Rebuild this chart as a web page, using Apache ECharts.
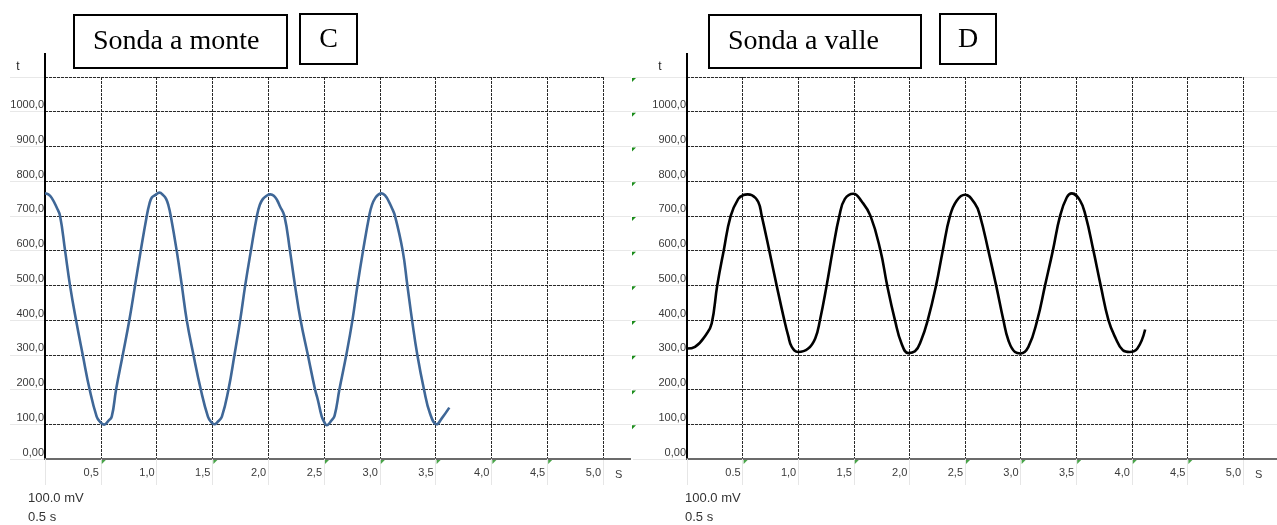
<!DOCTYPE html>
<html><head><meta charset="utf-8">
<script src="https://cdn.jsdelivr.net/npm/echarts@6/dist/echarts.min.js"></script>
<style>html,body{margin:0;padding:0;background:#fff}#c{width:1277px;height:525px}</style>
</head><body><div id="c"></div><script>
// ---- data ----
const monteTime = [0, 0.03, 0.06, 0.105, 0.135, 0.18, 0.224, 0.278, 0.338, 0.40, 0.463, 0.493, 0.529, 0.568, 0.598, 0.637, 0.697, 0.756, 0.807, 0.858, 0.912, 0.935, 0.957, 0.987, 1.025, 1.061, 1.085, 1.106, 1.127, 1.18, 1.226, 1.27, 1.33, 1.396, 1.46, 1.49, 1.516, 1.55, 1.585, 1.644, 1.698, 1.749, 1.794, 1.845, 1.899, 1.925, 1.953, 1.985, 2.018, 2.05, 2.08, 2.105, 2.145, 2.195, 2.24, 2.29, 2.355, 2.42, 2.445, 2.48, 2.505, 2.524, 2.565, 2.595, 2.638, 2.70, 2.755, 2.80, 2.85, 2.905, 2.93, 2.96, 2.99, 3.016, 3.05, 3.08, 3.105, 3.136, 3.205, 3.247, 3.289, 3.336, 3.396, 3.45, 3.51, 3.555, 3.623];
const monteValue = [765, 762, 752, 724, 700, 600, 500, 400, 300, 200, 122, 107, 99, 110, 122, 200, 300, 400, 500, 600, 700, 734, 753, 760, 767, 759, 749, 730, 700, 600, 500, 400, 300, 200, 122, 106, 100, 108, 122, 200, 300, 400, 500, 600, 700, 732, 749, 758, 762, 758, 745, 728, 700, 600, 500, 400, 300, 200, 170, 122, 105, 97, 110, 125, 200, 300, 400, 500, 600, 700, 732, 752, 762, 765, 758, 742, 725, 700, 600, 500, 400, 300, 200, 131, 100, 117, 148];
const valleTime = [0, 0.072, 0.177, 0.222, 0.272, 0.33, 0.393, 0.461, 0.507, 0.545, 0.582, 0.641, 0.672, 0.74, 0.806, 0.875, 0.91, 0.942, 1.0, 1.09, 1.153, 1.196, 1.256, 1.31, 1.37, 1.42, 1.496, 1.57, 1.65, 1.74, 1.80, 1.87, 1.93, 1.99, 2.05, 2.106, 2.165, 2.24, 2.30, 2.365, 2.425, 2.50, 2.59, 2.635, 2.71, 2.78, 2.845, 2.89, 2.95, 3.0, 3.07, 3.15, 3.22, 3.29, 3.355, 3.415, 3.46, 3.535, 3.585, 3.655, 3.72, 3.79, 3.85, 3.92, 3.98, 4.05, 4.12];
const valleValue = [318, 323, 361, 390, 500, 600, 700, 749, 760, 762, 760, 740, 700, 600, 500, 400, 355, 323, 308, 318, 347, 400, 500, 600, 700, 749, 764, 742, 700, 600, 500, 400, 332, 305, 310, 342, 400, 500, 600, 700, 744, 761, 735, 700, 600, 500, 400, 342, 308, 304, 323, 400, 500, 600, 700, 753, 765, 744, 700, 600, 500, 400, 351, 313, 308, 318, 373];
const yTickLabels = ['0,00', '100,0', '200,0', '300,0', '400,0', '500,0', '600,0', '700,0', '800,0', '900,0', '1000,0', ''];
const xTickLabelsMonte = ['', '0,5', '1,0', '1,5', '2,0', '2,5', '3,0', '3,5', '4,0', '4,5', '5,0'];
const xTickLabelsValle = ['', '0.5', '1,0', '1,5', '2,0', '2,5', '3,0', '3,5', '4,0', '4,5', '5,0'];
const greenTickTimes = [0.5, 1.5, 2.5, 3.0, 3.5, 4.0, 4.5];
const titleMonte = 'Sonda a monte', titleValle = 'Sonda a valle';
const letterMonte = 'C', letterValle = 'D';
const scaleText1 = '100.0 mV', scaleText2 = '0.5 s';

function pairs(t, v) { const n = Math.min(t.length, v.length); const o = []; for (let i = 0; i < n; i++) o.push([t[i], v[i]]); return o; }

const SANS = '"Liberation Sans", Arial, sans-serif';
const SERIF = '"Liberation Serif", "Times New Roman", serif';
const G = [
  { left: 45, top: 77, width: 558, height: 382 },
  { left: 687, top: 77, width: 556, height: 382 }
];
const gridDash = { color: '#2a2a2a', type: [3, 1], width: 1 };

function mkX(i, labels) {
  return {
    gridIndex: i, type: 'value', min: 0, max: 5, interval: 0.5, z: 3,
    axisLine: { show: true, onZero: false, lineStyle: { color: '#6b6b6b', width: 2 } },
    axisTick: { show: true, length: 26, lineStyle: { color: '#e6e6e6', width: 1 } },
    axisLabel: { formatter: v => labels[Math.round(v / 0.5)] || '', align: 'right', padding: [0, 2, 0, 0], margin: 8,
      color: '#3a3a3a', fontFamily: SANS, fontSize: 11 },
    splitLine: { show: true, lineStyle: gridDash },
    name: 'S', nameLocation: 'end', nameGap: 12,
    nameTextStyle: { color: '#3a3a3a', fontFamily: SANS, fontSize: 11, verticalAlign: 'top', padding: [10, 0, 0, 0] }
  };
}
function mkY(i) {
  return {
    gridIndex: i, type: 'value', min: 0, max: 1100, interval: 100, z: 3,
    axisLine: { show: true, onZero: false, lineStyle: { color: '#000', width: 2 } },
    axisTick: { show: false },
    axisLabel: { formatter: v => yTickLabels[Math.round(v / 100)], verticalAlign: 'bottom', margin: 1, lineHeight: 13,
      color: '#3a3a3a', fontFamily: SANS, fontSize: 11 },
    splitLine: { show: true, lineStyle: gridDash }
  };
}
function bgY(i) {
  return { gridIndex: i, type: 'value', min: 0, max: 1100, interval: 100, z: 0,
    axisLine: { show: false }, axisTick: { show: false }, axisLabel: { show: false },
    splitLine: { show: true, lineStyle: { color: '#e8e8e8', width: 1 } } };
}
function greenSeries(i) {
  return { type: 'scatter', xAxisIndex: i, yAxisIndex: i, data: greenTickTimes.map(t => [t, 0]),
    symbol: 'path://M0,0L10,0L0,10Z', symbolSize: 4, symbolOffset: [3, 3], clip: false, silent: true, z: 6,
    itemStyle: { color: '#1b8c1b' } };
}

const chart = echarts.init(document.getElementById('c'), null, { renderer: 'canvas' });
chart.setOption({
  animation: false,
  backgroundColor: '#fff',
  grid: [G[0], G[1], { left: 10, top: 77, width: 621, height: 382 }, { left: 633, top: 77, width: 644, height: 382 }],
  xAxis: [mkX(0, xTickLabelsMonte), mkX(1, xTickLabelsValle),
    { gridIndex: 2, type: 'value', min: 0, max: 1, show: false }, { gridIndex: 3, type: 'value', min: 0, max: 1, show: false }],
  yAxis: [mkY(0), mkY(1), bgY(2), bgY(3)],
  series: [
    { type: 'line', xAxisIndex: 0, yAxisIndex: 0, data: pairs(monteTime, monteValue), smooth: 0.45, showSymbol: false,
      lineStyle: { color: '#3f6797', width: 2.6 }, z: 5 },
    { type: 'line', xAxisIndex: 1, yAxisIndex: 1, data: pairs(valleTime, valleValue), smooth: 0.45, showSymbol: false,
      lineStyle: { color: '#000', width: 2.6 }, z: 5 },
    greenSeries(0), greenSeries(1)
  ]
});

// decorations: title boxes, axis names, scale notes, axis line extensions
const g = [];
function box(x, y, w, h) { g.push({ type: 'rect', shape: { x, y, width: w, height: h }, style: { fill: '#fff', stroke: '#000', lineWidth: 2 }, z: 10 }); }
function txt(x, y, s, font, align) { g.push({ type: 'text', x, y, style: { text: s, font, fill: '#000', textAlign: align || 'left', textVerticalAlign: 'middle' }, z: 11 }); }
box(74, 15, 213, 53); txt(93, 42, titleMonte, '28px ' + SERIF);
box(300, 14, 57, 50); txt(328.5, 40, letterMonte, '28px ' + SERIF, 'center');
box(709, 15, 212, 53); txt(728, 42, titleValle, '28px ' + SERIF);
box(940, 14, 56, 50); txt(968, 40, letterValle, '28px ' + SERIF, 'center');
g.push({ type: 'text', x: 18, y: 67, style: { text: 't', font: '12px ' + SANS, fill: '#222', textAlign: 'center', textVerticalAlign: 'middle' } });
g.push({ type: 'text', x: 660, y: 67, style: { text: 't', font: '12px ' + SANS, fill: '#222', textAlign: 'center', textVerticalAlign: 'middle' } });
[28, 685].forEach(x => {
  g.push({ type: 'text', x, y: 498, style: { text: scaleText1, font: '13px ' + SANS, fill: '#333', textVerticalAlign: 'middle' } });
  g.push({ type: 'text', x, y: 517, style: { text: scaleText2, font: '13px ' + SANS, fill: '#333', textVerticalAlign: 'middle' } });
});
G.forEach((gr, i) => {
  const x0 = gr.left, yTop = gr.top, yBot = gr.top + gr.height, xR = gr.left + gr.width;
  g.push({ type: 'line', shape: { x1: x0, y1: 53, x2: x0, y2: yTop }, style: { stroke: '#000', lineWidth: 2 }, z: 4 });
  g.push({ type: 'line', shape: { x1: xR, y1: yBot, x2: i === 0 ? 631 : 1277, y2: yBot }, style: { stroke: '#6b6b6b', lineWidth: 2 }, z: 4 });
});
// green cell markers in the column between the two charts
for (let v = 100; v <= 1100; v += 100) {
  const p = chart.convertToPixel({ yAxisIndex: 0 }, v);
  g.push({ type: 'polygon', shape: { points: [[632, p + 1], [636, p + 1], [632, p + 5]] }, style: { fill: '#1b8c1b' }, z: 6 });
}
chart.setOption({ graphic: g });
</script></body></html>
